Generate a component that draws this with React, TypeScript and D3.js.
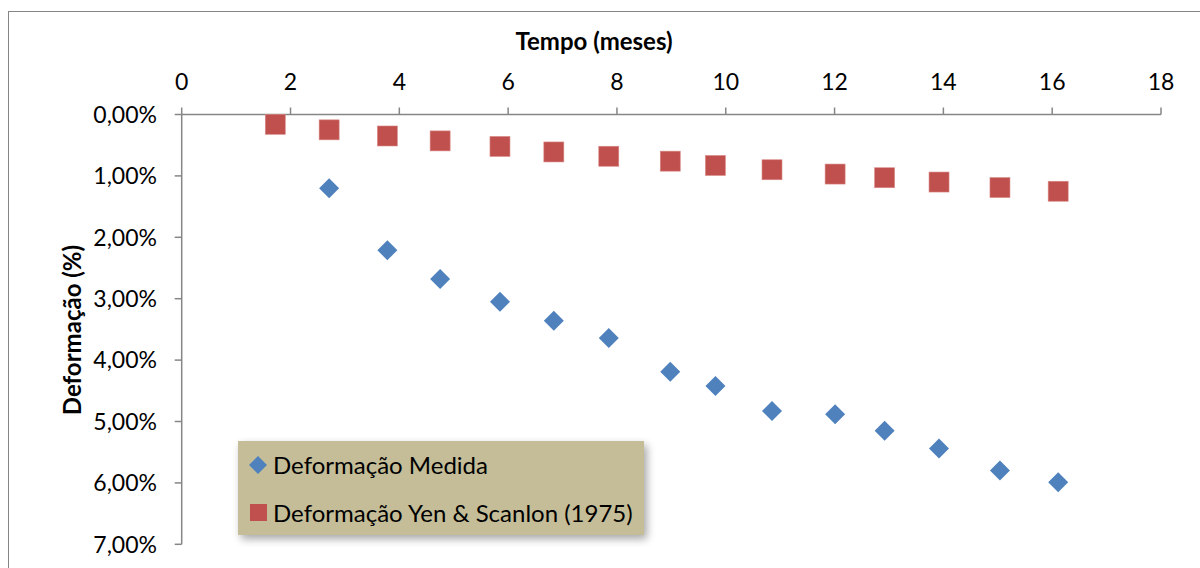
import React from "react";
import * as d3 from "d3";

const tempoMedida = [2.71, 3.78, 4.75, 5.85, 6.84, 7.85, 8.98, 9.81, 10.85, 12.01, 12.92, 13.92, 15.04, 16.11];
const deformacaoMedida = [1.2, 2.21, 2.68, 3.05, 3.36, 3.64, 4.19, 4.42, 4.83, 4.88, 5.15, 5.44, 5.8, 5.99];
const tempoYen = [1.72, 2.71, 3.78, 4.75, 5.85, 6.84, 7.85, 8.98, 9.81, 10.85, 12.01, 12.92, 13.92, 15.04, 16.11];
const deformacaoYen = [0.16, 0.25, 0.35, 0.43, 0.52, 0.61, 0.68, 0.76, 0.83, 0.9, 0.97, 1.03, 1.1, 1.19, 1.25];
const xTicks = [0, 2, 4, 6, 8, 10, 12, 14, 16, 18];
const yTicks = [0, 1, 2, 3, 4, 5, 6, 7];
const seriesNames = ["Deformação Medida", "Deformação Yen & Scanlon (1975)"];

const W = 1200;
const H = 568;
const FONT = "Lato, 'Open Sans', sans-serif";
const BLUE = "#4F81BD";
const RED = "#C0504D";
const AXIS = "#868686";

export default function App() {
  const x = d3.scaleLinear().domain([0, 18]).range([181.7, 1161]);
  const y = d3.scaleLinear().domain([0, 7]).range([114.5, 544.3]);
  const fmt = (v: number) => v.toFixed(2).replace(".", ",") + "%";
  const diamond = (cx: number, cy: number, r: number) =>
    `M${cx},${cy - r}L${cx + r},${cy}L${cx},${cy + r}L${cx - r},${cy}Z`;

  const medida = tempoMedida.map((t, i) => ({ t, v: deformacaoMedida[i] }));
  const yen = tempoYen.map((t, i) => ({ t, v: deformacaoYen[i] }));

  return (
    <svg width={W} height={H} style={{ position: "absolute", left: 0, top: 0, background: "#fff" }} fontFamily={FONT}>
      <defs>
        <filter id="shadow" x="-10%" y="-20%" width="130%" height="160%">
          <feGaussianBlur in="SourceAlpha" stdDeviation="4" />
          <feOffset dx="3" dy="4" result="b" />
          <feComponentTransfer>
            <feFuncA type="linear" slope="0.35" />
          </feComponentTransfer>
          <feMerge>
            <feMergeNode />
            <feMergeNode in="SourceGraphic" />
          </feMerge>
        </filter>
      </defs>
      <rect x={8.5} y={11.5} width={1300} height={700} fill="#fff" stroke={AXIS} strokeWidth={1} />

      {/* title */}
      <text x={594} y={50} textAnchor="middle" fontSize={24} fontWeight="bold" fill="#000">
        Tempo (meses)
      </text>
      <text
        transform={`translate(81,330) rotate(-90)`}
        textAnchor="middle"
        fontSize={24}
        fontWeight="bold"
        fill="#000"
      >
        Deformação (%)
      </text>

      {/* x axis (top) */}
      <line x1={x(0)} x2={x(18)} y1={y(0)} y2={y(0)} stroke={AXIS} strokeWidth={1.5} />
      {xTicks.map((t) => (
        <g key={"xt" + t}>
          <line x1={x(t)} x2={x(t)} y1={y(0)} y2={y(0) - 7} stroke={AXIS} strokeWidth={1.5} />
          <text x={x(t)} y={90} textAnchor="middle" fontSize={23} fill="#000">
            {t}
          </text>
        </g>
      ))}

      {/* y axis */}
      <line x1={x(0)} x2={x(0)} y1={y(0)} y2={y(7)} stroke={AXIS} strokeWidth={1.5} />
      {yTicks.map((t) => (
        <g key={"yt" + t}>
          <line x1={x(0) - 7} x2={x(0)} y1={y(t)} y2={y(t)} stroke={AXIS} strokeWidth={1.5} />
          <text x={157} y={y(t)} dy="0.36em" textAnchor="end" fontSize={23} fill="#000">
            {fmt(t)}
          </text>
        </g>
      ))}

      {/* series */}
      {yen.map((d, i) => (
        <rect key={"r" + i} x={x(d.t) - 10} y={y(d.v) - 10} width={20} height={20} fill={RED} stroke="#d98a88" strokeWidth={0.6} />
      ))}
      {medida.map((d, i) => (
        <path key={"d" + i} d={diamond(x(d.t), y(d.v), 10)} fill={BLUE} />
      ))}

      {/* legend */}
      <g filter="url(#shadow)">
        <rect x={238} y={441} width={406} height={94} fill="#C4BD97" />
      </g>
      <path d={diamond(258, 465, 9)} fill={BLUE} />
      <rect x={250} y={504} width={17} height={17} fill={RED} />
      <text x={273} y={465} dy="0.36em" fontSize={24} fill="#000">
        {seriesNames[0]}
      </text>
      <text x={273} y={513} dy="0.36em" fontSize={24} fill="#000">
        {seriesNames[1]}
      </text>
    </svg>
  );
}
